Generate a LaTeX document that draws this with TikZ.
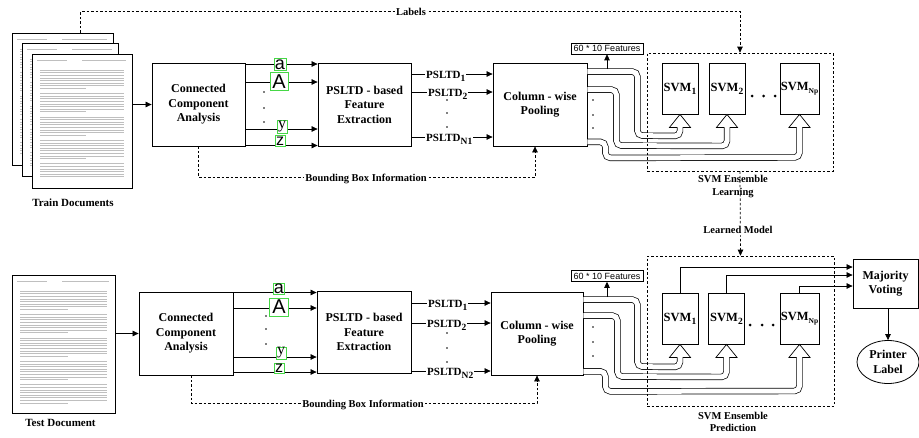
\documentclass[tikz,border=0pt]{standalone}
\usepackage{fontspec}
\setmainfont{Liberation Serif}
\newfontfamily\sansf{Liberation Sans}
\usetikzlibrary{arrows.meta,shapes.geometric,calc}
\definecolor{lgreen}{RGB}{70,215,70}
\newcommand\mysb[2][9.5]{\raisebox{-3pt}{\fontsize{#1}{#1}\selectfont #2}}
\newcommand\mydoctext[4]{%
 \begin{scope}[shift={(#1,#2)}]
  \draw[docl] (5,6) -- (35,6) (50,6) -- (#3-6,6);
  \pgfmathtruncatemacro\nn{(#4-26)/2.6}
  \foreach \i in {0,...,\nn}{
    \pgfmathtruncatemacro\m{mod(\i,9)}
    \ifnum\m=8\relax\else
      \pgfmathsetmacro\xe{\m==7 ? 0.55*(#3-16)+8 : #3-8}
      \draw[docl] (8,16+\i*2.6) -- (\xe,16+\i*2.6);
    \fi
  }
 \end{scope}}
\begin{document}
\begin{tikzpicture}[x=1pt,y=-1pt,
  box/.style={draw,line width=0.8pt,font=\bfseries\fontsize{12}{14.5}\selectfont,align=center,inner sep=0pt},
  svm/.style={draw,line width=0.8pt,font=\bfseries\fontsize{12.5}{14}\selectfont,inner sep=0pt,minimum height=51},
  arr/.style={-{Triangle[length=6pt,width=5.5pt]},line width=0.7pt},
  dsh/.style={dash pattern=on 2.5pt off 2pt,line width=0.7pt},
  pipe/.style={line width=0.7pt,double=white,double distance=5pt,rounded corners=5pt},
  lab/.style={font=\bfseries\fontsize{10.5}{12.5}\selectfont,align=center,inner sep=1pt},
  plab/.style={font=\bfseries\fontsize{11}{13}\selectfont,anchor=base west,fill=white,inner sep=1pt},
  feat/.style={draw,line width=0.6pt,font=\sansf\fontsize{9}{10}\selectfont,inner sep=0.5pt,minimum width=72,minimum height=11},
  gl/.style={draw=lgreen,line width=1pt,fill=white,inner sep=0pt},
  page/.style={draw,line width=0.9pt,fill=white,inner sep=0pt},
  docl/.style={line width=0.5pt,gray!50},
  hhead/.pic={\fill[white] (-10.5,13)--(0,0)--(10.5,13)--cycle;
    \draw[line width=0.7pt,line join=miter] (-2.85,13)--(-10.5,13)--(0,0)--(10.5,13)--(2.85,13);}
]
\useasboundingbox (0,0) rectangle (919,437);

% ---------- documents ----------
\node[page,minimum width=101,minimum height=132] (d1) at (62.5,99) {};
\mydoctext{12}{33}{101}{132}
\node[page,minimum width=96,minimum height=133] (d2) at (70,109.5) {};
\mydoctext{22}{43}{96}{133}
\node[page,minimum width=100,minimum height=134] (d3) at (82,121) {};
\mydoctext{32}{54}{100}{134}
\node[lab,font=\bfseries\fontsize{11}{13}\selectfont] (trl) at (73,203) {Train Documents};

\node[page,minimum width=103,minimum height=138] (dt) at (63.5,344) {};
\mydoctext{12}{275}{103}{138}
\node[lab,font=\bfseries\fontsize{11}{13}\selectfont] (tel) at (60.5,423) {Test Document};

% ---------- top row boxes ----------
\node[box,minimum width=93,minimum height=83] (cca1) at (198.5,104.5) {Connected\\Component\\Analysis};
\node[box,minimum width=93,minimum height=83] (ps1) at (364.5,104.5) {PSLTD - based\\Feature\\Extraction};
\node[box,minimum width=94,minimum height=83] (cp1) at (540,104.5) {Column - wise\\Pooling};
\node[feat] (f1) at (607,48.5) {60 * 10 Features};
\node[svm,minimum width=36] (s1t) at (680,88.5) {SVM\mysb{1}};
\node[svm,minimum width=36] (s2t) at (727,88.5) {SVM\mysb{2}};
\node[svm,minimum width=39] (snt) at (799.5,88.5) {SVM\mysb[7.5]{Np}};

% ---------- bottom row boxes ----------
\node[box,minimum width=94,minimum height=83] (cca2) at (186,333.5) {Connected\\Component\\Analysis};
\node[box,minimum width=94,minimum height=82] (ps2) at (364,332) {PSLTD - based\\Feature\\Extraction};
\node[box,minimum width=92,minimum height=83] (cp2) at (537,333.5) {Column - wise\\Pooling};
\node[feat] (f2) at (607,276) {60 * 10 Features};
\node[svm,minimum width=36] (s1b) at (680,318.5) {SVM\mysb{1}};
\node[svm,minimum width=36] (s2b) at (726.5,318.5) {SVM\mysb{2}};
\node[svm,minimum width=39] (snb) at (799.5,318.5) {SVM\mysb[7.5]{Np}};
\node[box,minimum width=65,minimum height=49] (mv) at (885.5,283.5) {Majority\\Voting};
\node[box,ellipse,minimum width=62,minimum height=43] (pl) at (888,362) {Printer\\Label};

% ---------- doc -> CCA ----------
\draw[arr] (d3.east |- cca1.west) -- (cca1.west);
\draw[arr] (dt.east |- cca2.west) -- (cca2.west);

% ---------- CCA -> PSLTD ----------
\foreach \yy in {64,82,129,145.5} \draw[arr] (cca1.east |- 0,\yy) -- (ps1.west |- 0,\yy);
\foreach \yy in {292.5,308,357,372} \draw[arr] (cca2.east |- 0,\yy) -- (ps2.west |- 0,\yy);
\foreach \yy in {92,108,122} \fill (264,\yy) circle (0.8);
\foreach \yy in {316,329,344} \fill (266,\yy) circle (0.8);

\node[gl,minimum width=12,minimum height=12.5,font=\sansf\fontsize{18}{18}\selectfont] (la1) at (280,64.5) {a};
\node[gl,minimum width=18,minimum height=18,font=\sansf\fontsize{20}{20}\selectfont] (lA1) at (279,81.5) {A};
\node[gl,minimum width=10,minimum height=13,font=\fontsize{16}{16}\selectfont] (ly1) at (282,126.5) {y};
\node[gl,minimum width=10,minimum height=10.5,font=\sansf\fontsize{16}{16}\selectfont] (lz1) at (280,141) {z};
\node[gl,minimum width=11,minimum height=11,font=\sansf\fontsize{18}{18}\selectfont] (la2) at (279,289) {a};
\node[gl,minimum width=19,minimum height=18,font=\sansf\fontsize{20}{20}\selectfont] (lA2) at (279,307) {A};
\node[gl,minimum width=10,minimum height=12,font=\fontsize{16}{16}\selectfont] (ly2) at (281,353) {y};
\node[gl,minimum width=10,minimum height=9.5,font=\sansf\fontsize{16}{16}\selectfont] (lz2) at (279,368.5) {z};

% ---------- PSLTD -> pooling ----------
\foreach \yy in {74,92,137} \draw[arr] (ps1.east |- 0,\yy) -- (cp1.west |- 0,\yy);
\foreach \yy in {303,323,371} \draw[arr] (ps2.east |- 0,\yy) -- (cp2.west |- 0,\yy);
\node[plab] (pa1) at (425,78) {PSLTD\mysb{1}};
\node[plab] (pb1) at (427,96) {PSLTD\mysb{2}};
\node[plab] (pc1) at (425,141) {PSLTD\mysb{N1}};
\node[plab] (pa2) at (427,307) {PSLTD\mysb{1}};
\node[plab] (pb2) at (426,327) {PSLTD\mysb{2}};
\node[plab] (pc2) at (426,375) {PSLTD\mysb{N2}};
\foreach \yy in {100,113,127} \fill (447,\yy) circle (0.8);
\foreach \yy in {333,348,362} \fill (447,\yy) circle (0.8);

% ---------- pipes top ----------
\draw[pipe] ($(cp1.north east)+(0,9)$) -- ++(50,0) -- ++(0,64) -- (s1t.south |- 0,136) -- (s1t.south |- 0,127);
\draw[pipe] ($(cp1.north east)+(0,27)$) -- ++(29,0) -- ++(0,56) -- (s2t.south |- 0,146) -- (s2t.south |- 0,127);
\draw[pipe] ($(cp1.south east)+(0,-4.5)$) -- ++(18,0) -- ++(0,16) -- (snt.south |- 0,157.5) -- (snt.south |- 0,127);
\pic at (s1t.south) {hhead};
\pic at (s2t.south) {hhead};
\pic at (snt.south) {hhead};
\draw[arr] (f1.south |- 0,69) -- (f1.south);
\foreach \yy in {100,115,128} \fill (593,\yy) circle (0.8);
\foreach \xx in {752,763.5,775} \fill (\xx,96) circle (1.5);

% ---------- pipes bottom ----------
\draw[pipe] ($(cp2.north east)+(0,8)$) -- ++(54,0) -- ++(0,67) -- (s1b.south |- 0,367) -- (s1b.south |- 0,357);
\draw[pipe] ($(cp2.north east)+(0,24)$) -- ++(34,0) -- ++(0,61) -- (s2b.south |- 0,377) -- (s2b.south |- 0,357);
\draw[pipe] ($(cp2.south east)+(0,-4)$) -- ++(22,0) -- ++(0,20) -- (snb.south |- 0,391) -- (snb.south |- 0,357);
\pic at (s1b.south) {hhead};
\pic at (s2b.south) {hhead};
\pic at (snb.south) {hhead};
\draw[arr] (f2.south |- 0,297) -- (f2.south);
\foreach \yy in {327,342,356} \fill (593,\yy) circle (0.8);
\foreach \xx in {750,762,773} \fill (\xx,325) circle (1.5);

% ---------- ensemble boxes ----------
\node[draw,dsh,minimum width=186,minimum height=118] (ens1) at (740,112) {};
\node[draw,dsh,minimum width=187,minimum height=150] (ens2) at (740.5,331) {};

% ---------- majority voting ----------
\draw[arr] (s1b.north) |- ([yshift=16.5pt]mv.west);
\draw[arr] (s2b.north) |- ([yshift=8.5pt]mv.west);
\draw[arr] (snb.north) |- ([yshift=-2.5pt]mv.west);
\draw[arr] (pl.north |- mv.south) -- (pl.north);

% ---------- dashed information flows ----------
\draw[dsh,arr] ($(d1.north west)+(69,0)$) -- ++(0,-21) -| (ens1.north);
\node[lab,fill=white] (lbl) at (411,12) {Labels};
\draw[dsh,arr] (ens1.south) -- (ens2.north);
\node[lab] (enl1) at (733,186.5) {SVM Ensemble\\Learning};
\node[lab,fill=white] (lm) at (738,230) {Learned Model};
\node[lab] (enl2) at (733,422) {SVM Ensemble\\Prediction};

\draw[dsh,arr] (cca1.south) -- ++(0,31) -| ([xshift=-5pt]cp1.south);
\node[lab,fill=white] (bb1) at (366,179) {Bounding Box Information};
\draw[dsh,arr] ([xshift=5pt]cca2.south) -- ++(0,28) -| (cp2.south);
\node[lab,fill=white] (bb2) at (363,405) {Bounding Box Information};
\end{tikzpicture}
\end{document}
